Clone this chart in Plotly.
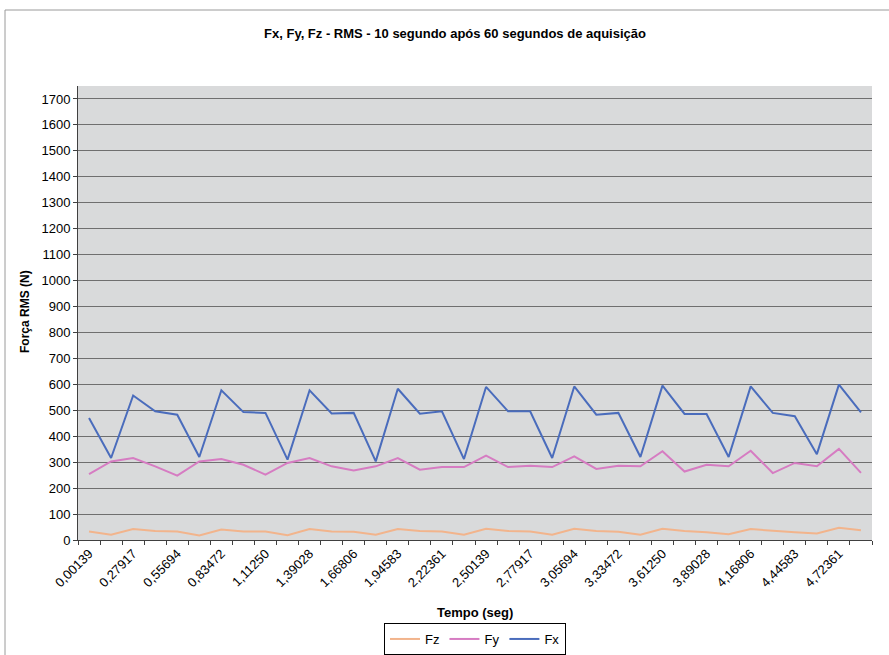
import plotly.graph_objects as go

tempo_labels = ["0,00139", "0,27917", "0,55694", "0,83472", "1,11250", "1,39028",
                "1,66806", "1,94583", "2,22361", "2,50139", "2,77917", "3,05694",
                "3,33472", "3,61250", "3,89028", "4,16806", "4,44583", "4,72361"]

fx = [470, 316, 557, 496, 483, 320, 577, 493, 490, 310, 577, 488,
      490, 303, 583, 487, 496, 312, 590, 496, 496, 316, 592, 483,
      490, 320, 595, 486, 486, 320, 592, 490, 477, 331, 599, 492]
fy = [254, 303, 316, 284, 248, 303, 312, 290, 252, 297, 316, 284,
      268, 284, 316, 271, 281, 281, 325, 281, 286, 281, 322, 274,
      286, 284, 342, 264, 290, 284, 344, 258, 297, 284, 351, 259]
fz = [33, 20, 42, 35, 33, 17, 40, 33, 33, 18, 42, 33,
      32, 20, 42, 35, 33, 20, 43, 35, 33, 20, 43, 35,
      32, 20, 43, 35, 30, 22, 42, 35, 30, 25, 47, 38]

idx = list(range(len(fx)))
font = "Liberation Sans, Arial, sans-serif"

fig = go.Figure()
fig.add_trace(go.Scatter(x=idx, y=fz, name="Fz", mode="lines",
                         line=dict(color="#f2b48c", width=2)))
fig.add_trace(go.Scatter(x=idx, y=fy, name="Fy", mode="lines",
                         line=dict(color="#d67cc2", width=2)))
fig.add_trace(go.Scatter(x=idx, y=fx, name="Fx", mode="lines",
                         line=dict(color="#4a6cbc", width=2)))

PL, PR, PT, PB = 78, 872, 86, 540
W, H = PR - PL, PB - PT
def px(x): return (x - PL) / W
def py(y): return (PB - y) / H

fig.update_layout(
    width=889, height=655,
    margin=dict(l=PL, r=889 - PR, t=PT, b=655 - PB, autoexpand=False),
    paper_bgcolor="white", plot_bgcolor="#d9dadb",
    font=dict(family=font, size=13, color="black"),
    title=dict(text="<b>Fx, Fy, Fz - RMS - 10 segundo após 60 segundos de aquisição</b>",
               x=455 / 889, xanchor="center", y=1 - 33 / 655, yanchor="middle",
               font=dict(size=13)),
    showlegend=True,
    legend=dict(orientation="h", x=0.5, xanchor="center", y=py(639), yanchor="middle",
                bordercolor="black", borderwidth=1, bgcolor="white",
                font=dict(size=13), traceorder="normal", itemwidth=30),
    xaxis=dict(range=[-0.5, 35.5], tickmode="array", tickvals=idx[::2],
               ticktext=tempo_labels, tickangle=-45, ticks="", showgrid=False,
               zeroline=False, showline=True, linecolor="#404040", linewidth=1,
               tickfont=dict(size=13), automargin=False,
               minor=dict(ticks="outside", tick0=-0.5, dtick=1, ticklen=4,
                          tickcolor="#404040", showgrid=False)),
    yaxis=dict(range=[0, 1750], tickmode="linear", tick0=0, dtick=100,
               showgrid=True, gridcolor="#6f6f6f", gridwidth=1, zeroline=False,
               showline=True, linecolor="#404040", linewidth=1,
               ticks="outside", ticklen=4, tickcolor="#404040",
               tickfont=dict(size=13), automargin=False),
    annotations=[
        dict(text="<b>Força RMS (N)</b>", xref="paper", yref="paper",
             x=px(25), y=py(312), textangle=-90, showarrow=False,
             xanchor="center", yanchor="middle", font=dict(size=12)),
        dict(text="<b>Tempo (seg)</b>", xref="paper", yref="paper",
             x=0.5, y=py(612), showarrow=False, xanchor="center",
             yanchor="middle", font=dict(size=13)),
    ],
    shapes=[
        dict(type="line", xref="paper", yref="paper", x0=px(5), x1=px(5),
             y0=py(10), y1=py(655), line=dict(color="#9a9a9a", width=1)),
        dict(type="line", xref="paper", yref="paper", x0=px(5), x1=px(889),
             y0=py(10), y1=py(10), line=dict(color="#9a9a9a", width=1)),
    ],
)

fig.write_html("out.html", config={"displayModeBar": False},
               post_script="document.body.style.margin='0';document.body.style.padding='0';document.body.style.overflow='hidden';")
